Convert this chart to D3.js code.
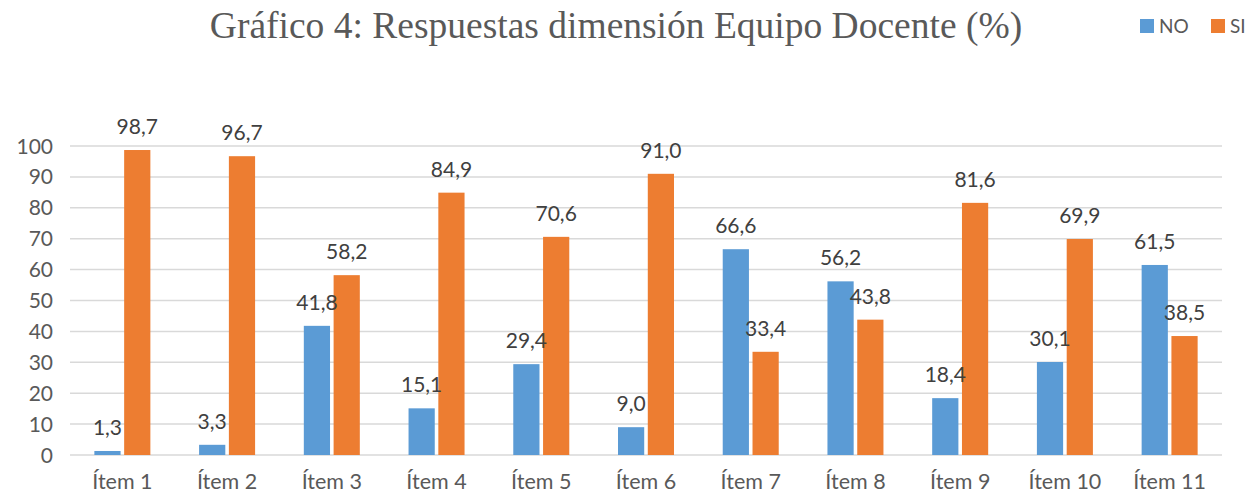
<!DOCTYPE html>
<html>
<head>
<meta charset="utf-8">
<script src="https://cdn.jsdelivr.net/npm/d3@7"></script>
<style>
	body { margin: 0; background: #fff; }
	svg { display: block; }
</style>
</head>
<body>
<div id="chart"></div>
<script>
var categories = ["Ítem 1", "Ítem 2", "Ítem 3", "Ítem 4", "Ítem 5", "Ítem 6", "Ítem 7", "Ítem 8", "Ítem 9", "Ítem 10", "Ítem 11"];
var seriesNames = ["NO", "SI"];
var valuesNO = [1.3, 3.3, 41.8, 15.1, 29.4, 9.0, 66.6, 56.2, 18.4, 30.1, 61.5];
var valuesSI = [98.7, 96.7, 58.2, 84.9, 70.6, 91.0, 33.4, 43.8, 81.6, 69.9, 38.5];
var yTicks = [0, 10, 20, 30, 40, 50, 60, 70, 80, 90, 100];
var colors = ["#5b9bd5", "#ed7d31"];

var width = 1249;
var height = 495;
var font = "Lato, 'Open Sans', sans-serif";
var textColor = "#595959";

var svg = d3.select("#chart").append("svg")
	.attr("width", width)
	.attr("height", height);

// scales
var x = d3.scaleBand()
	.domain(categories)
	.range([70, 1222]);

var x1 = d3.scaleBand()
	.domain(seriesNames)
	.range([x.bandwidth() / 2 - 28, x.bandwidth() / 2 + 28])
	.paddingInner(0.12);

var y = d3.scaleLinear()
	.domain([0, 100])
	.range([455, 146]);

// gridlines
svg.append("g")
	.selectAll("line")
	.data(yTicks)
	.enter().append("line")
	.attr("x1", 70)
	.attr("x2", 1222)
	.attr("y1", d => y(d))
	.attr("y2", d => y(d))
	.attr("stroke", "#d9d9d9")
	.attr("stroke-width", 1.5);

// y axis labels
svg.append("g")
	.selectAll("text")
	.data(yTicks)
	.enter().append("text")
	.attr("x", 53)
	.attr("y", d => y(d) + 7.5)
	.attr("text-anchor", "end")
	.text(d => d)
	.style("font-family", font)
	.style("font-size", "21px")
	.style("fill", textColor);

// x axis labels
svg.append("g")
	.selectAll("text")
	.data(categories)
	.enter().append("text")
	.attr("x", d => x(d) + x.bandwidth() / 2)
	.attr("y", 489)
	.attr("text-anchor", "middle")
	.text(d => d)
	.style("font-family", font)
	.style("font-size", "21.5px")
	.style("fill", textColor);

// bars
var rows = categories.map(function(c, i) {
	return { cat: c, vals: [
		{ key: "NO", value: valuesNO[i] },
		{ key: "SI", value: valuesSI[i] }
	] };
});

var group = svg.append("g")
	.selectAll("g")
	.data(rows)
	.enter().append("g")
	.attr("transform", d => "translate(" + x(d.cat) + ",0)");

group.selectAll("rect")
	.data(d => d.vals)
	.enter().append("rect")
	.attr("x", d => x1(d.key))
	.attr("width", x1.bandwidth())
	.attr("y", d => y(d.value))
	.attr("height", d => y(0) - y(d.value))
	.attr("fill", (d, i) => colors[i]);

group.selectAll("text")
	.data(d => d.vals)
	.enter().append("text")
	.attr("x", d => x1(d.key) + x1.bandwidth() / 2)
	.attr("y", d => y(d.value) - 16)
	.attr("text-anchor", "middle")
	.text(d => d.value.toFixed(1).replace(".", ","))
	.style("font-family", font)
	.style("font-size", "21px")
	.style("fill", "#404040");

// title
svg.append("text")
	.attr("x", 616)
	.attr("y", 38)
	.attr("text-anchor", "middle")
	.text("Gráfico 4: Respuestas dimensión Equipo Docente (%)")
	.style("font-family", "'Liberation Serif', 'Times New Roman', serif")
	.style("font-size", "37.5px")
	.style("fill", textColor);

// legend
var legend = svg.append("g")
	.selectAll("g")
	.data(seriesNames)
	.enter().append("g")
	.attr("transform", (d, i) => "translate(" + [1140, 1211][i] + ",19)");

legend.append("rect")
	.attr("width", 14)
	.attr("height", 14)
	.attr("fill", (d, i) => colors[i]);

legend.append("text")
	.attr("x", 19)
	.attr("y", 14)
	.text(d => d)
	.style("font-family", font)
	.style("font-size", "19px")
	.style("fill", textColor);
</script>
</body>
</html>
